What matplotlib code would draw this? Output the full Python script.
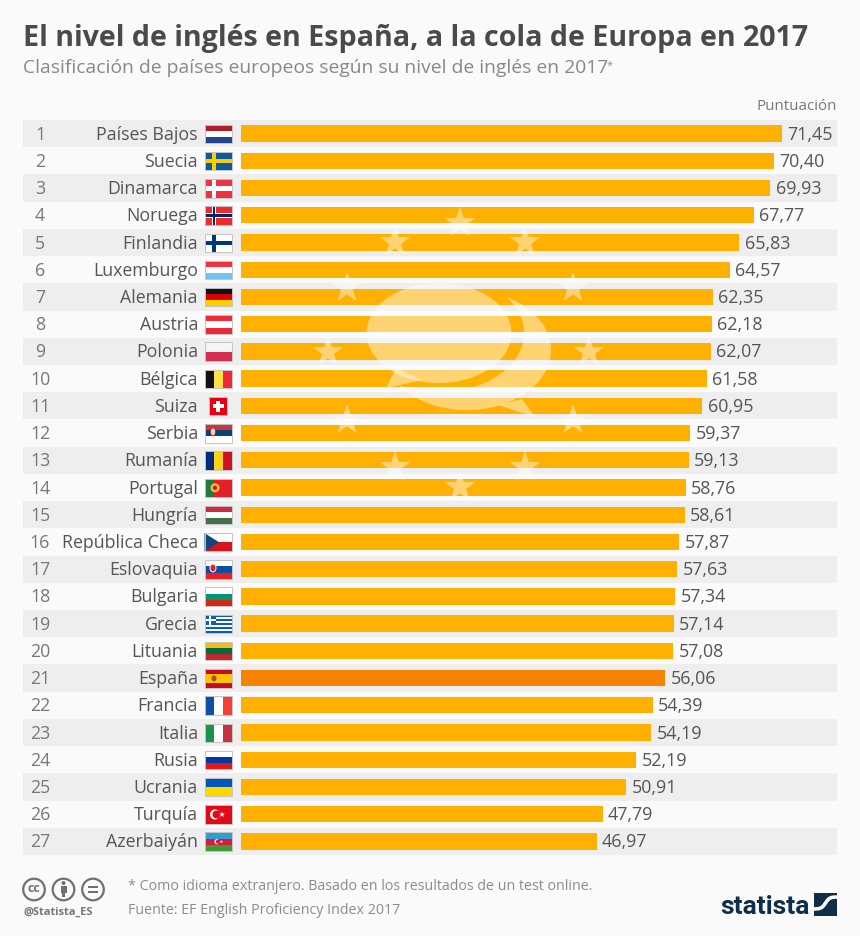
"""Nivel de ingles en Europa 2017 - statista chart"""
import numpy as np
import matplotlib
matplotlib.use("Agg")
import matplotlib.pyplot as plt
from matplotlib.patches import Rectangle, Polygon, Circle, Ellipse

plt.rcParams['font.family'] = ['Open Sans', 'DejaVu Sans']

countries = ["Países Bajos", "Suecia", "Dinamarca", "Noruega", "Finlandia", "Luxemburgo",
             "Alemania", "Austria", "Polonia", "Bélgica", "Suiza", "Serbia", "Rumanía",
             "Portugal", "Hungría", "República Checa", "Eslovaquia", "Bulgaria", "Grecia",
             "Lituania", "España", "Francia", "Italia", "Rusia", "Ucrania", "Turquía",
             "Azerbaiyán"]
scores = [71.45, 70.40, 69.93, 67.77, 65.83, 64.57, 62.35, 62.18, 62.07, 61.58, 60.95,
          59.37, 59.13, 58.76, 58.61, 57.87, 57.63, 57.34, 57.14, 57.08, 56.06, 54.39,
          54.19, 52.19, 50.91, 47.79, 46.97]
highlight = "España"

# plain striped flags, the others get extra drawing further down
h_stripes = {
    "Países Bajos": ["#ae1c28", "#ffffff", "#21468b"],
    "Luxemburgo": ["#ef3340", "#ffffff", "#6fc3ee"],
    "Alemania": ["#111111", "#dd0000", "#ffce00"],
    "Austria": ["#ed2939", "#ffffff", "#ed2939"],
    "Polonia": ["#f4f4f4", "#d22f4e"],
    "Serbia": ["#c6363c", "#0c4076", "#ffffff"],
    "Hungría": ["#cd2a3e", "#ffffff", "#436f4d"],
    "Eslovaquia": ["#ffffff", "#0b4ea2", "#ee1c25"],
    "Bulgaria": ["#ffffff", "#00966e", "#d62612"],
    "Lituania": ["#fdb913", "#006a44", "#c1272d"],
    "Rusia": ["#ffffff", "#0039a6", "#e4181c"],
    "Ucrania": ["#0057b7", "#ffd700"],
    "Azerbaiyán": ["#2f9fd0", "#d8193c", "#3f9c35"],
    "España": ["#c60b1e", "#ffc400", "#ffc400", "#c60b1e"],
}
v_stripes = {
    "Bélgica": ["#111111", "#fae042", "#ed2939"],
    "Rumanía": ["#002b7f", "#fcd116", "#ce1126"],
    "Francia": ["#0d50a8", "#ffffff", "#ef4135"],
    "Italia": ["#1b9348", "#ffffff", "#c8313e"],
}
# background, cross colour, inner cross colour
nordic = {
    "Suecia": ["#0b5a9e", "#fecc00", None],
    "Dinamarca": ["#ef3340", "#ffffff", None],
    "Noruega": ["#ef2b2d", "#ffffff", "#002868"],
    "Finlandia": ["#ffffff", "#003580", None],
}

BG = "#fafafa"
BAND = "#eeeeee"
BAR = "#ffb000"
BAR_HI = "#f58300"
TXT = "#555555"
SCALE = 7.57  # px per point of score
BAR_X0, LEFT, RIGHT, TOP, BOTTOM = 241, 23, 837, 120, 855
W, H = 860, 936

fig = plt.figure(figsize=(W / 100, H / 100), dpi=100, facecolor=BG)

# chart axes, x=0 sits where the bars start
ax = fig.add_axes([LEFT / W, 1 - BOTTOM / H, (RIGHT - LEFT) / W, (BOTTOM - TOP) / H])
ax.set_xlim(-(BAR_X0 - LEFT) / SCALE, (RIGHT - BAR_X0) / SCALE)
ax.set_ylim(len(scores) - 0.5, -0.5)
ax.axis("off")

pos = np.arange(len(scores))
for i in pos[::2]:
    ax.axhspan(i - 0.5, i + 0.5, color=BAND, lw=0, zorder=0)
colors = [BAR_HI if c == highlight else BAR for c in countries]
ax.barh(pos, scores, height=0.6, color=colors, zorder=2)

name_x = (198 - BAR_X0) / SCALE
rank_x = (40 - BAR_X0) / SCALE
for i, (c, v) in enumerate(zip(countries, scores)):
    ax.text(rank_x, i + 0.04, str(i + 1), ha="center", va="center", fontsize=12.8, color="#777777")
    ax.text(name_x, i + 0.04, c, ha="right", va="center", fontsize=12.8, color=TXT)
    ax.text(v + 0.7, i + 0.04, f"{v:.2f}".replace(".", ","), ha="left", va="center",
            fontsize=12.9, color=TXT)

# overlay in pixel coordinates for flags, watermark and footer
px = fig.add_axes([0, 0, 1, 1], facecolor="none")
px.set_xlim(0, W)
px.set_ylim(H, 0)
px.axis("off")


def star(cx, cy, r, **kw):
    ang = np.radians(-90 + 36 * np.arange(10))
    rad = np.where(np.arange(10) % 2 == 0, r, r * 0.4)
    px.add_patch(Polygon(np.c_[cx + rad * np.cos(ang), cy + rad * np.sin(ang)], **kw))


def contiguous(points, mask):
    # keep masked points in order, starting right after the gap
    idx = np.where(mask)[0]
    gaps = np.diff(idx)
    if gaps.max() > 1:
        return np.roll(points[mask], -(np.argmax(gaps) + 1), axis=0)
    return points[mask]


# watermark
WM = dict(fc="#ffffff", alpha=0.45, lw=0, zorder=3)
for a, b in [(460, 223), (395, 242), (525, 242), (347, 288), (573, 288), (328, 352),
             (589, 352), (347, 420), (573, 420), (395, 467), (525, 467), (460, 487)]:
    star(a, b, 16, **WM)

px.add_patch(Ellipse((439, 333), 145, 100, **WM))
px.add_patch(Polygon([(396, 368), (386, 388), (422, 380)], **WM))
t = np.linspace(0, 2 * np.pi, 400, endpoint=False)
ox, oy = 467 + 84 * np.cos(t), 350 + 60 * np.sin(t)
gx, gy = 439 + 85 * np.cos(t), 333 + 59 * np.sin(t)
outer = contiguous(np.c_[ox, oy], ((ox - 439) / 85) ** 2 + ((oy - 333) / 59) ** 2 > 1)
inner = contiguous(np.c_[gx, gy], ((gx - 467) / 84) ** 2 + ((gy - 350) / 60) ** 2 < 1)
px.add_patch(Polygon(np.r_[outer, inner[::-1]], **WM))
px.add_patch(Polygon([(498, 405), (535, 417), (522, 399)], **WM))


def flag_stripes(y, cols, vertical=False):
    n = len(cols)
    for k, col in enumerate(cols):
        if vertical:
            px.add_patch(Rectangle((204.5 + k * 27.5 / n, y - 9.2), 27.5 / n, 18.4, fc=col, lw=0, zorder=4))
        else:
            px.add_patch(Rectangle((204.5, y - 9.2 + k * 18.4 / n), 27.5, 18.4 / n, fc=col, lw=0, zorder=4))


def flag_rect(x0, y0, w, h, col, z=5):
    px.add_patch(Rectangle((x0, y0), w, h, fc=col, lw=0, zorder=z))


row_y = [TOP + (i + 0.5) * (BOTTOM - TOP) / len(countries) + 0.3 for i in pos]
for c, y in zip(countries, row_y):
    if c in h_stripes:
        flag_stripes(y, h_stripes[c])
    elif c in v_stripes:
        flag_stripes(y, v_stripes[c], vertical=True)
    elif c in nordic:
        bg, cross, inner_c = nordic[c]
        flag_stripes(y, [bg])
        flag_rect(212, y - 9.2, 4.4, 18.4, cross)
        flag_rect(204.5, y - 2.2, 27.5, 4.4, cross)
        if inner_c:
            flag_rect(213, y - 9.2, 2.4, 18.4, inner_c, 6)
            flag_rect(204.5, y - 1.2, 27.5, 2.4, inner_c, 6)
    elif c == "Suiza":
        flag_rect(209, y - 9.2, 18.4, 18.4, "#e60012", 4)
        flag_rect(216.2, y - 5.5, 4, 11, "#ffffff")
        flag_rect(212.7, y - 2, 11, 4, "#ffffff")
    elif c == "Portugal":
        flag_stripes(y, ["#1f7a3d", "#e32029", "#e32029"], vertical=True)
        px.add_patch(Circle((215, y), 4.5, fc="#e8c440", lw=0, zorder=5))
        px.add_patch(Circle((215, y), 2.2, fc="#c8202a", lw=0, zorder=6))
    elif c == "República Checa":
        flag_stripes(y, ["#ffffff", "#d7141a"])
        px.add_patch(Polygon([(204.5, y - 9.2), (219, y), (204.5, y + 9.2)], fc="#11457e", lw=0, zorder=5))
    elif c == "Grecia":
        flag_stripes(y, ["#0d5eaf", "#ffffff"] * 4 + ["#0d5eaf"])
        flag_rect(204.5, y - 9.2, 11, 10.2, "#0d5eaf")
        flag_rect(209, y - 9.2, 2, 10.2, "#ffffff", 6)
        flag_rect(204.5, y - 5.1, 11, 2, "#ffffff", 6)
    elif c == "Turquía":
        flag_stripes(y, ["#e30a17"])
        px.add_patch(Circle((215, y), 5, fc="#ffffff", lw=0, zorder=5))
        px.add_patch(Circle((216.5, y), 4, fc="#e30a17", lw=0, zorder=6))
        star(222, y, 3, fc="#ffffff", lw=0, zorder=7)
    if c == "España":
        px.add_patch(Ellipse((214, y), 5, 6, fc="#a8501e", lw=0, zorder=5))
    if c == "Serbia":
        px.add_patch(Ellipse((213, y - 1.5), 5, 8, fc="#e9d8c0", ec="#b03030", lw=0.6, zorder=5))
    if c == "Eslovaquia":
        px.add_patch(Ellipse((213, y - 1.5), 6, 8, fc="#ee1c25", ec="#ffffff", lw=0.7, zorder=5))
    if c == "Azerbaiyán":
        px.add_patch(Circle((217, y), 2.6, fc="#ffffff", lw=0, zorder=5))
        px.add_patch(Circle((218, y), 2.1, fc="#d8193c", lw=0, zorder=6))
        star(221.5, y, 1.8, fc="#ffffff", lw=0, zorder=7)
    # thin grey edge so white stripes stay visible
    x0, fw = (209, 18.4) if c == "Suiza" else (204.5, 27.5)
    px.add_patch(Rectangle((x0, y - 9.2), fw, 18.4, fc="none", ec="#c4c4c4", lw=0.7, zorder=8))

# header
px.text(23, 38.5, "El nivel de inglés en España, a la cola de Europa en 2017", fontsize=20.65,
        fontweight="bold", color="#4a4a4a", ha="left", va="center")
px.text(23, 68, "Clasificación de países europeos según su nivel de inglés en 2017", fontsize=13.9,
        color="#888888", ha="left", va="center")
px.text(607, 66, "*", fontsize=8, color="#888888", ha="left", va="center")
px.text(837, 107, "Puntuación", fontsize=10.9, color="#777777", ha="right", va="center")

# footer
for a in (34, 63.5, 93):
    px.add_patch(Circle((a, 889.5), 10.8, fc="none", ec="#707070", lw=1.6))
px.text(34, 889, "cc", fontsize=9, fontweight="bold", color="#707070", ha="center", va="center")
px.add_patch(Circle((63.5, 883), 2, fc="#707070", lw=0))
px.add_patch(Rectangle((60.5, 886), 6, 6.5, fc="#707070", lw=0))
px.add_patch(Rectangle((62, 892), 3, 4.5, fc="#707070", lw=0))
px.add_patch(Rectangle((88, 886), 10, 2, fc="#707070", lw=0))
px.add_patch(Rectangle((88, 891), 10, 2, fc="#707070", lw=0))
px.text(23, 912, "@Statista_ES", fontsize=8, fontweight="bold", color="#777777", ha="left", va="center")
px.text(128, 887, "* Como idioma extranjero. Basado en los resultados de un test online.", fontsize=10.25,
        color="#8c8c8c", ha="left", va="center")
px.text(128, 910, "Fuente: EF English Proficiency Index 2017", fontsize=10.25,
        color="#8c8c8c", ha="left", va="center")

# statista logo
px.text(720, 907, "statista", fontsize=19, fontweight="bold", color="#0f2f48",
        family=["Roboto", "DejaVu Sans"], ha="left", va="center")
px.add_patch(Rectangle((814, 893), 23, 23, fc="#0f2f48", lw=0))
sx = np.linspace(812, 839, 40)
sy = 903 - 6 * np.tanh((sx - 825.5) / 4)
px.plot(sx, sy, color=BG, lw=2.6, solid_capstyle="butt")

fig.savefig("out.png", dpi=100, facecolor=BG)
